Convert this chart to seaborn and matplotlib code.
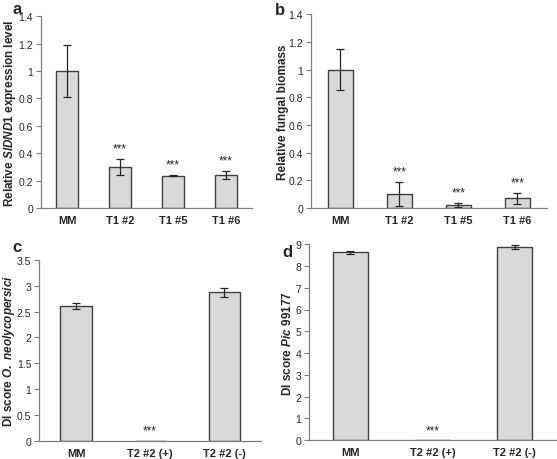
import matplotlib
matplotlib.use("Agg")
import matplotlib.pyplot as plt
import matplotlib.ticker as mticker
import matplotlib.transforms as mtrans
import pandas as pd
import seaborn as sns

# panel a - SlDND1 expression
a_names = ["MM", "T1 #2", "T1 #5", "T1 #6"]
a_vals = [1.0, 0.30, 0.235, 0.24]
a_err = [0.19, 0.06, 0.005, 0.03]
a_sig = ["", "***", "***", "***"]

# panel b - fungal biomass
b_names = ["MM", "T1 #2", "T1 #5", "T1 #6"]
b_vals = [1.0, 0.10, 0.02, 0.07]
b_err = [0.145, 0.09, 0.015, 0.04]
b_sig = ["", "***", "***", "***"]

# panel c - DI score O. neolycopersici
c_names = ["MM", "T2 #2 (+)", "T2 #2 (-)"]
c_vals = [2.61, 0.0, 2.87]
c_err = [0.06, 0.0, 0.09]
c_sig = ["", "***", ""]

# panel d - DI score Pic 99177
d_names = ["MM", "T2 #2 (+)", "T2 #2 (-)"]
d_vals = [8.62, 0.0, 8.87]
d_err = [0.05, 0.0, 0.08]
d_sig = ["", "***", ""]

sns.set_style("white")
plt.rcParams["font.family"] = ["Liberation Sans", "DejaVu Sans"]
plt.rcParams["mathtext.fontset"] = "custom"
plt.rcParams["mathtext.it"] = "Liberation Sans:italic:bold"
plt.rcParams["mathtext.rm"] = "Liberation Sans:bold"

FILL = "#d9d9d9"
EDGE = "#404040"
AXC = "#7f7f7f"

fig = plt.figure(figsize=(5.57, 4.6), dpi=100)


def panel(rect, names, vals, err, sig, ymax, ystep, ylabel, label_x, letter, letter_xy):
    ax = fig.add_axes(rect)
    df = pd.DataFrame({"group": names, "value": vals})
    sns.barplot(data=df, x="group", y="value", color=FILL, edgecolor=EDGE,
                linewidth=1.0, width=0.42, saturation=1, errorbar=None, ax=ax)
    # only draw error bars where there is one (zero bars have none)
    idx = [i for i in range(len(names)) if err[i] > 0]
    ax.errorbar(idx, [vals[i] for i in idx], yerr=[err[i] for i in idx], fmt="none",
                ecolor="#262626", elinewidth=0.9, capsize=3, capthick=0.9)
    for i, s in enumerate(sig):
        if s:
            ax.annotate(s, (i, vals[i] + err[i]), xytext=(0, 3),
                        textcoords="offset points", ha="center", va="bottom",
                        fontsize=8.5, color="#262626")
    n = len(names)
    ax.set_xlim(-0.5, n - 0.5)
    ax.set_ylim(0, ymax)
    ax.yaxis.set_major_locator(mticker.MultipleLocator(ystep))
    ax.yaxis.set_major_formatter(mticker.FormatStrFormatter("%g"))
    ax.set_xticks(range(n))
    ax.set_xticklabels(names, fontweight="bold", fontsize=8)
    ax.set_xticks([i - 0.5 for i in range(n + 1)], minor=True)
    ax.tick_params(axis="x", which="major", length=0, pad=5)
    ax.tick_params(axis="x", which="minor", length=4, width=0.8, color=AXC, direction="out")
    ax.tick_params(axis="y", length=3.5, width=0.8, color=AXC, direction="out",
                   labelsize=7.5, pad=2, left=True, labelcolor="#262626")
    for sp in ["top", "right"]:
        ax.spines[sp].set_visible(False)
    for sp in ["left", "bottom"]:
        ax.spines[sp].set_color(AXC)
        ax.spines[sp].set_linewidth(0.9)
    ax.set_xlabel("")
    ax.set_ylabel(ylabel, fontweight="bold", fontsize=8.5)
    tr = mtrans.blended_transform_factory(fig.transFigure, ax.transAxes)
    ax.yaxis.set_label_coords(label_x, 0.5, transform=tr)
    fig.text(letter_xy[0], letter_xy[1], letter, fontweight="bold", fontsize=12,
             ha="left", va="center")
    return ax


panel([0.073, 0.546, 0.380, 0.416], a_names, a_vals, a_err, a_sig, 1.4, 0.2,
      r"Relative $\mathit{SlDND1}$ expression level", 0.033, "a", (0.022, 0.980))
panel([0.558, 0.546, 0.424, 0.421], b_names, b_vals, b_err, b_sig, 1.4, 0.2,
      "Relative fungal biomass", 0.518, "b", (0.493, 0.978))
panel([0.070, 0.039, 0.399, 0.394], c_names, c_vals, c_err, c_sig, 3.5, 0.5,
      r"DI score $\mathit{O.\ neolycopersici}$", 0.031, "c", (0.022, 0.462))
panel([0.555, 0.041, 0.443, 0.426], d_names, d_vals, d_err, d_sig, 9, 1,
      r"DI score $\mathit{Pic\ 99177}$", 0.527, "d", (0.507, 0.452))

fig.savefig("out.png", dpi=100)
